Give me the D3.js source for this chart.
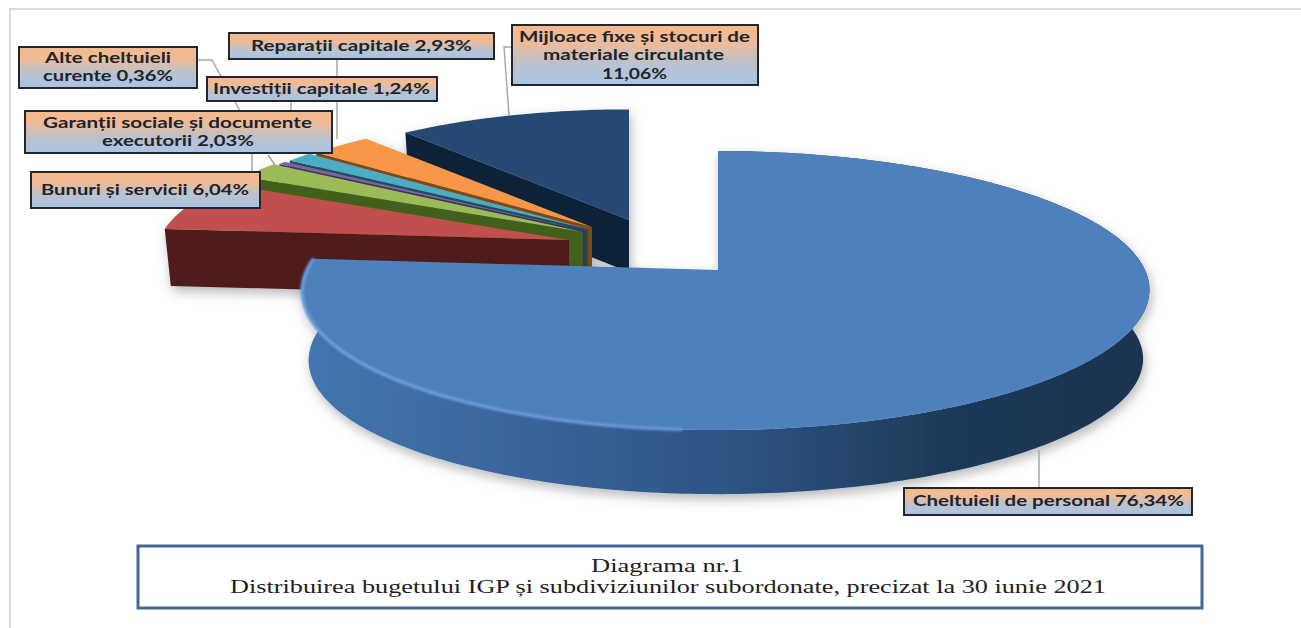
<!DOCTYPE html>
<html><head><meta charset="utf-8">
<script src="https://cdnjs.cloudflare.com/ajax/libs/d3/7.8.5/d3.min.js"></script>
<style>html,body{margin:0;padding:0;background:#fff;overflow:hidden}svg{display:block}</style>
</head><body><div id="chart"></div>
<script>
// ---- data ----
const categories = ["Cheltuieli de personal","Bunuri și servicii","Garanții sociale și documente executorii","Alte cheltuieli curente","Investiții capitale","Reparații capitale","Mijloace fixe și stocuri de materiale circulante"];
const values = [76.34,6.04,2.03,0.36,1.24,2.93,11.06];
const topColors = ["#4d80bc","#c0504d","#9bbb59","#8064a2","#4bacc6","#f79646","#264a73"];
const wallColors = ["#1e3653","#4f1c1a","#41601f","#403152","#1f4f5e","#7f4a12","#0f2139"];
const labelLines = [
  ["Cheltuieli de personal 76,34%"],["Bunuri și servicii 6,04%"],
  ["Garanții sociale și documente","executorii 2,03%"],["Alte cheltuieli","curente 0,36%"],
  ["Investiții capitale 1,24%"],["Reparații capitale 2,93%"],
  ["Mijloace fixe și stocuri de","materiale circulante","11,06%"]];
const captionLines = ["Diagrama nr.1","Distribuirea bugetului IGP și subdiviziunilor subordonate, precizat la 30 iunie 2021"];

// ---- layout ----
const W = 1301, H = 628;
const apex = [[718,270],[569,240],[583,232],[586,231],[588,229],[592,227],[629,220]];
const radius = [1,.98,.96,.95,.94,.93,.92];
const depth = [69,57,56,56,56,56,52];
const boxes = [[904,488,288,27],[31,172,229,36],[25,111,307,42],[19,47,178,41],[207,77,230,24],[229,33,265,26],[512,25,246,60]];
const lineX = [[913,1184],[41,249],[43,312,102,254],[45,171,43,173],[213,430],[251,472],[519,750,543,724,602,667]];
const lineY = [[506],[195],[128,146],[63,81],[94],[51],[42,60,79]];
const leaders = [
  [[1039,450],[1039,488]],
  [[252,154],[252,172]],
  [[268,155],[275,165]],
  [[197,60],[212,60],[240,111]],
  [[291,101],[291,111]],
  [[337,59],[337,139]],
  [[512,47],[504,47],[509,115]]];
const persp = .147, A = 419, B = 136.5;

const svg = d3.select("#chart").append("svg").attr("width",W).attr("height",H);
const defs = svg.append("defs");

const wallGrad = defs.append("linearGradient").attr("id","wall").attr("gradientUnits","userSpaceOnUse")
  .attr("x1",302).attr("x2",1150).attr("y1",0).attr("y2",0);
[[0,"#4475b0"],[.25,"#3a659b"],[.5,"#2d5585"],[.75,"#1f3a5a"],[1,"#1c3350"]].forEach(s=>wallGrad.append("stop").attr("offset",s[0]).attr("stop-color",s[1]));
const rimGrad = defs.append("linearGradient").attr("id","rim").attr("gradientUnits","userSpaceOnUse")
  .attr("x1",302).attr("x2",900).attr("y1",0).attr("y2",0);
[[0,"#6c9edb"],[.6,"#6596d2"],[1,"#4d80bc"]].forEach(s=>rimGrad.append("stop").attr("offset",s[0]).attr("stop-color",s[1]));
const lblGrad = defs.append("linearGradient").attr("id","lbl").attr("x1",0).attr("x2",0).attr("y1",0).attr("y2",1);
[[0,"#f6b98c"],[.3,"#eebb98"],[.62,"#bcc2cc"],[1,"#a8c4e8"]].forEach(s=>lblGrad.append("stop").attr("offset",s[0]).attr("stop-color",s[1]));
const shadow = defs.append("filter").attr("id","sh").attr("x","-10%").attr("y","-10%").attr("width","120%").attr("height","125%");
shadow.append("feDropShadow").attr("dx",2).attr("dy",5).attr("stdDeviation",6).attr("flood-color","#000").attr("flood-opacity",.28);
const soft = defs.append("filter").attr("id","soft").attr("x","-5%").attr("y","-5%").attr("width","110%").attr("height","110%");
soft.append("feGaussianBlur").attr("stdDeviation",.9);

// frame
const frame = d3.path(); frame.moveTo(10,H); frame.lineTo(10,9); frame.lineTo(W,9);
svg.append("path").attr("d",frame.toString()).attr("fill","none").attr("stroke","#dcdcdc").attr("stroke-width",2);

// ---- pie geometry from d3.pie ----
const arcs = d3.pie().sort(null).value(d=>d)(values);
const line = d3.line();
function project(i,theta,r){
  const X = Math.sin(theta)*r, Y = Math.cos(theta)*r, w = 1+persp*Y;
  const s = i===0 ? 8*r*Math.sin(theta)**2 : 0;
  return [apex[i][0]+s+X*A/w, apex[i][1]-Y*B/w];
}
function lower(i,p){
  if(i===0) return [726+(p[0]-726)*.985, 291+depth[0]+(p[1]-291)*.965];
  return [apex[i][0]+(p[0]-apex[i][0])*.985, p[1]+depth[i]];
}
function samples(a){
  const n = Math.max(4,Math.ceil((a.endAngle-a.startAngle)*60));
  return d3.range(n+1).map(k=>a.startAngle+(a.endAngle-a.startAngle)*k/n);
}
function drawSlice(g,i){
  const a = arcs[i], th = samples(a), R = radius[i];
  const rim = th.map(t=>project(i,t,R));
  const ctr = apex[i];
  if(i===0){
    g.append("path").attr("d",line(rim.concat(rim.map(p=>lower(i,p)).reverse()))+"Z").attr("fill","url(#wall)");
  } else {
    const e = rim[0];
    g.append("path").attr("d",line([ctr,e,lower(i,e),lower(i,ctr)])+"Z").attr("fill",wallColors[i]);
  }
  g.append("path").attr("d",line([ctr].concat(rim))+"Z").attr("fill",topColors[i]);
  if(i===0){
    const front = rim.filter((p,k)=>th[k]>Math.PI*1.02);
    g.append("path").attr("d",line(front)).attr("fill","none").attr("stroke","url(#rim)").attr("stroke-width",3.5).attr("filter","url(#soft)");
  }
}
const back = svg.append("g").attr("filter","url(#sh)");
[6,5,4,3,2,1].forEach(i=>drawSlice(back,i));
const main = svg.append("g").attr("filter","url(#sh)");
drawSlice(main,0);

// ---- leaders ----
svg.append("g").selectAll("path").data(leaders).join("path")
  .attr("d",d=>line(d)).attr("fill","none").attr("stroke","#a8a8a8").attr("stroke-width",1.5);

// ---- labels ----
const lbl = svg.append("g").selectAll("g").data(categories).join("g");
lbl.append("rect").attr("x",(d,i)=>boxes[i][0]).attr("y",(d,i)=>boxes[i][1])
  .attr("width",(d,i)=>boxes[i][2]).attr("height",(d,i)=>boxes[i][3])
  .attr("fill","url(#lbl)").attr("stroke","#26262a").attr("stroke-width",2);
lbl.each(function(d,i){
  labelLines[i].forEach((t,k)=>{
    d3.select(this).append("text").text(t)
      .attr("x",lineX[i][k*2]).attr("y",lineY[i][k])
      .attr("textLength",lineX[i][k*2+1]-lineX[i][k*2]).attr("lengthAdjust","spacingAndGlyphs")
      .attr("font-family","Lato, 'Open Sans', sans-serif").attr("font-weight",700)
      .attr("font-size",15).attr("fill","#20242c");
  });
});

// ---- caption ----
svg.append("rect").attr("x",138).attr("y",546).attr("width",1064).attr("height",62)
  .attr("fill","#fff").attr("stroke","#44689a").attr("stroke-width",3);
const capX = [[591,743],[230,1106]], capY = [572,593];
svg.selectAll("text.cap").data(captionLines).join("text").attr("class","cap").text(d=>d)
  .attr("x",(d,i)=>capX[i][0]).attr("y",(d,i)=>capY[i])
  .attr("textLength",(d,i)=>capX[i][1]-capX[i][0]).attr("lengthAdjust","spacingAndGlyphs")
  .attr("font-family","'Liberation Serif', serif").attr("font-size",19.5).attr("fill","#222");
</script></body></html>
